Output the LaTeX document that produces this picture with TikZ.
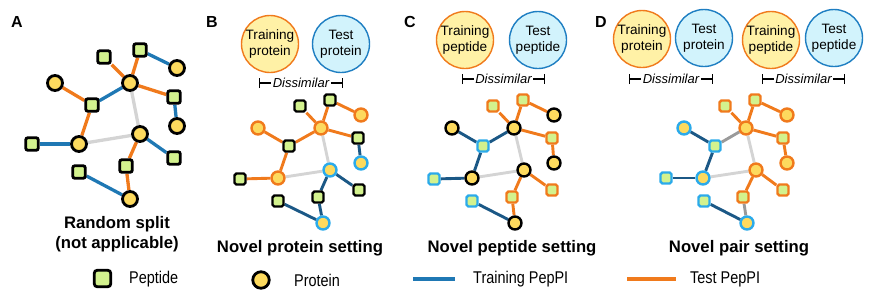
\documentclass[tikz,border=0pt]{standalone}
\usepackage{fontspec}
\setmainfont{Liberation Sans}
\newfontfamily\legfont[FakeStretch=0.85]{Liberation Sans}
\usetikzlibrary{arrows.meta}
\pgfdeclarelayer{background}
\pgfsetlayers{background,main}
\definecolor{pepfill}{HTML}{D3F28E}
\definecolor{profill}{HTML}{FDDA5E}
\definecolor{tblue}{HTML}{1F78B4}
\definecolor{torange}{HTML}{F07A1C}
\definecolor{dblue}{HTML}{1B5886}
\definecolor{lblue}{HTML}{2BAAEA}
\definecolor{lgray}{HTML}{D4D4D4}
\definecolor{mgray}{HTML}{9A9A9A}
\definecolor{hdryellow}{HTML}{FFF1A6}
\definecolor{hdrcyan}{HTML}{D2F3FC}
\definecolor{hdrblue}{HTML}{1E7EC2}
\tikzset{
  pepA/.style={rectangle, rounded corners=2pt, draw=black, line width=2.8pt, fill=pepfill, minimum size=12.5pt, inner sep=0pt},
  proA/.style={circle, draw=black, line width=2.8pt, fill=profill, minimum size=15pt, inner sep=0pt},
  pep/.style={rectangle, rounded corners=1.8pt, draw=#1, line width=2.4pt, fill=pepfill, minimum size=11pt, inner sep=0pt},
  pro/.style={circle, draw=#1, line width=2.4pt, fill=profill, minimum size=13pt, inner sep=0pt},
  edgeA/.style={draw=#1, line width=3.3pt},
  edg/.style={draw=#1, line width=2.9pt},
  letter/.style={font=\fontsize{16}{18}\selectfont\bfseries, inner sep=0pt},
  title/.style={font=\fontsize{16.7}{19.5}\selectfont\bfseries, align=center, inner sep=0pt},
  hdr/.style={circle, draw=#1, line width=1.4pt, minimum size=57pt, inner sep=0pt, align=center, font=\fontsize{13.6}{16.5}\selectfont},
  dissim/.style={font=\fontsize{13}{15}\selectfont\itshape, inner sep=1.5pt},
  bar/.style={line width=1.1pt, {Bar[width=10pt]}-},
  rbar/.style={line width=1.1pt, -{Bar[width=10pt]}},
  legtext/.style={font=\fontsize{17}{19}\selectfont\legfont, anchor=west, inner sep=0pt},
}
\begin{document}
\begin{tikzpicture}[x=1pt, y=-1pt]
\useasboundingbox (0,0) rectangle (872,303);
% panel letters
\node[letter] (LA) at (17,22) {A};
\node[letter] (LB) at (212,22) {B};
\node[letter] (LC) at (410,22) {C};
\node[letter] (LD) at (601,22) {D};

% ---------------- Panel A
\node[pepA] (a1) at (104,57) {};
\node[pepA] (a2) at (140,50) {};
\node[proA] (a3) at (177,68) {};
\node[proA] (a4) at (55,83) {};
\node[proA] (a5) at (130,83) {};
\node[pepA] (a6) at (92,105) {};
\node[pepA] (a7) at (174,97) {};
\node[proA] (a8) at (177,126) {};
\node[proA] (a9) at (140,134) {};
\node[proA] (a10) at (79,144) {};
\node[pepA] (a11) at (32,144) {};
\node[pepA] (a12) at (174,158) {};
\node[pepA] (a13) at (126,166) {};
\node[pepA] (a14) at (79,172) {};
\node[proA] (a15) at (130,199) {};
\begin{pgfonlayer}{background}
\path[edgeA=torange] (a1)--(a5);
\path[edgeA=torange] (a2)--(a5);
\path[edgeA=tblue] (a2)--(a3);
\path[edgeA=torange] (a4)--(a6);
\path[edgeA=tblue] (a6)--(a5);
\path[edgeA=torange] (a5)--(a7);
\path[edgeA=tblue] (a7)--(a8);
\path[edgeA=lgray] (a5)--(a9);
\path[edgeA=torange] (a6)--(a10);
\path[edgeA=lgray] (a10)--(a9);
\path[edgeA=tblue] (a11)--(a10);
\path[edgeA=tblue] (a9)--(a12);
\path[edgeA=torange] (a9)--(a13);
\path[edgeA=torange] (a13)--(a15);
\path[edgeA=tblue] (a14)--(a15);
\end{pgfonlayer}
\node[title] (tA) at (117,234) {Random split\\(not applicable)};

% ---------------- Panel B
\node[hdr=torange, fill=hdryellow] (hB1) at (270,44) {Training\\protein};
\node[hdr=hdrblue, fill=hdrcyan] (hB2) at (341,44) {Test\\protein};
\node[dissim] (dB) at (301,83) {Dissimilar};
\coordinate (dBl) at (259,83); \coordinate (dBr) at (343,83);
\draw[bar] (dBl) -- (dB.west);
\draw[rbar] (dB.east) -- (dBr);

\node[pep=black] (b1) at (300,106) {};
\node[pep=black] (b2) at (330,100) {};
\node[pro=torange] (b3) at (361,115) {};
\node[pro=torange] (b4) at (258,128) {};
\node[pro=torange] (b5) at (321,128) {};
\node[pep=black] (b6) at (289,146) {};
\node[pep=black] (b7) at (358,138) {};
\node[pro=lblue] (b8) at (361,163) {};
\node[pro=lblue] (b9) at (330,170) {};
\node[pro=torange] (b10) at (278,178) {};
\node[pep=black] (b11) at (240,179) {};
\node[pep=black] (b12) at (359,190) {};
\node[pep=black] (b13) at (318,197) {};
\node[pep=black] (b14) at (278,201) {};
\node[pro=lblue] (b15) at (323,223) {};
\begin{pgfonlayer}{background}
\path[edg=torange] (b1)--(b5);
\path[edg=torange] (b2)--(b5);
\path[edg=torange] (b2)--(b3);
\path[edg=torange] (b4)--(b6);
\path[edg=torange] (b6)--(b5);
\path[edg=torange] (b5)--(b7);
\path[edg=dblue] (b7)--(b8);
\path[edg=lgray] (b5)--(b9);
\path[edg=torange] (b6)--(b10);
\path[edg=lgray] (b10)--(b9);
\path[edg=torange] (b11)--(b10);
\path[edg=dblue] (b9)--(b12);
\path[edg=dblue] (b9)--(b13);
\path[edg=dblue] (b13)--(b15);
\path[edg=dblue] (b14)--(b15);
\end{pgfonlayer}
\node[title] (tB) at (300,248) {Novel protein setting};

% ---------------- Panel C
\node[hdr=torange, fill=hdryellow] (hC1) at (465,40) {Training\\peptide};
\node[hdr=hdrblue, fill=hdrcyan] (hC2) at (538,40) {Test\\peptide};
\node[dissim] (dC) at (503.5,79) {Dissimilar};
\coordinate (dCl) at (462,79); \coordinate (dCr) at (545,79);
\draw[bar] (dCl) -- (dC.west);
\draw[rbar] (dC.east) -- (dCr);

\node[pep=torange] (c1) at (493,106) {};
\node[pep=torange] (c2) at (523,100) {};
\node[pro=black] (c3) at (554,115) {};
\node[pro=black] (c4) at (452,128) {};
\node[pro=black] (c5) at (514,128) {};
\node[pep=lblue] (c6) at (483,146) {};
\node[pep=torange] (c7) at (552,138) {};
\node[pro=black] (c8) at (554,163) {};
\node[pro=black] (c9) at (524,170) {};
\node[pro=black] (c10) at (472,178) {};
\node[pep=lblue] (c11) at (434,179) {};
\node[pep=torange] (c12) at (552,190) {};
\node[pep=torange] (c13) at (512,197) {};
\node[pep=lblue] (c14) at (472,201) {};
\node[pro=black] (c15) at (515,223) {};
\begin{pgfonlayer}{background}
\path[edg=torange] (c1)--(c5);
\path[edg=torange] (c2)--(c5);
\path[edg=torange] (c2)--(c3);
\path[edg=dblue] (c4)--(c6);
\path[edg=dblue] (c6)--(c5);
\path[edg=torange] (c5)--(c7);
\path[edg=torange] (c7)--(c8);
\path[edg=lgray] (c5)--(c9);
\path[edg=dblue] (c6)--(c10);
\path[edg=lgray] (c10)--(c9);
\path[edg=dblue] (c11)--(c10);
\path[edg=torange] (c9)--(c12);
\path[edg=torange] (c9)--(c13);
\path[edg=torange] (c13)--(c15);
\path[edg=dblue] (c14)--(c15);
\end{pgfonlayer}
\node[title] (tC) at (512,248) {Novel peptide setting};

% ---------------- Panel D
\node[hdr=torange, fill=hdryellow] (hD1) at (642,39) {Training\\protein};
\node[hdr=hdrblue, fill=hdrcyan] (hD2) at (704,38) {Test\\protein};
\node[hdr=torange, fill=hdryellow] (hD3) at (771,40) {Training\\peptide};
\node[hdr=hdrblue, fill=hdrcyan] (hD4) at (834,38) {Test\\peptide};
\node[dissim] (dD1) at (671,79) {Dissimilar};
\coordinate (dD1l) at (629,79); \coordinate (dD1r) at (713,79);
\draw[bar] (dD1l) -- (dD1.west);
\draw[rbar] (dD1.east) -- (dD1r);
\node[dissim] (dD2) at (803.5,79) {Dissimilar};
\coordinate (dD2l) at (762,79); \coordinate (dD2r) at (845,79);
\draw[bar] (dD2l) -- (dD2.west);
\draw[rbar] (dD2.east) -- (dD2r);

\node[pep=torange] (d1) at (725,106) {};
\node[pep=torange] (d2) at (755,100) {};
\node[pro=torange] (d3) at (787,115) {};
\node[pro=lblue] (d4) at (684,128) {};
\node[pro=torange] (d5) at (746,128) {};
\node[pep=lblue] (d6) at (715,146) {};
\node[pep=torange] (d7) at (783,138) {};
\node[pro=torange] (d8) at (787,163) {};
\node[pro=torange] (d9) at (756,170) {};
\node[pro=lblue] (d10) at (703,178) {};
\node[pep=lblue] (d11) at (666,178) {};
\node[pep=torange] (d12) at (783,190) {};
\node[pep=torange] (d13) at (743,197) {};
\node[pep=lblue] (d14) at (704,201) {};
\node[pro=lblue] (d15) at (747,223) {};
\begin{pgfonlayer}{background}
\path[edg=torange] (d1)--(d5);
\path[edg=torange] (d2)--(d5);
\path[edg=torange] (d2)--(d3);
\path[edg=dblue] (d4)--(d6);
\path[edg=mgray] (d6)--(d5);
\path[edg=torange] (d5)--(d7);
\path[edg=torange] (d7)--(d8);
\path[edg=lgray] (d5)--(d9);
\path[edg=dblue] (d6)--(d10);
\path[edg=lgray] (d10)--(d9);
\path[edg=dblue] (d11)--(d10);
\path[edg=torange] (d9)--(d12);
\path[edg=torange] (d9)--(d13);
\path[edg=mgray] (d13)--(d15);
\path[edg=dblue] (d14)--(d15);
\end{pgfonlayer}
\node[title] (tD) at (739,248) {Novel pair setting};

% ---------------- Legend
\node[rectangle, rounded corners=3pt, draw=black, line width=2.8pt, fill=pepfill, minimum size=16.5pt, inner sep=0pt] (lpep) at (102.5,278.5) {};
\node[legtext] (lpept) at (129,279) {Peptide};
\node[circle, draw=black, line width=2.8pt, fill=profill, minimum size=16.5pt, inner sep=0pt] (lpro) at (261,280) {};
\node[legtext] (lprot) at (294,280) {Protein};
\coordinate (ltb1) at (413,279); \coordinate (ltb2) at (455,279);
\draw[tblue, line width=3.5pt] (ltb1) -- (ltb2);
\node[legtext] (ltbt) at (473,279) {Training PepPI};
\coordinate (lto1) at (627,279); \coordinate (lto2) at (676,279);
\draw[torange, line width=3.5pt] (lto1) -- (lto2);
\node[legtext] (ltot) at (690,279) {Test PepPI};
\end{tikzpicture}
\end{document}
